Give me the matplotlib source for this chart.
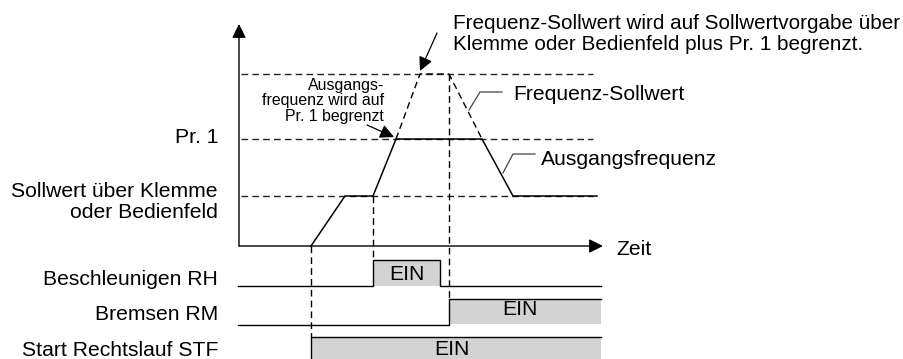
import matplotlib
matplotlib.use('Agg')
import matplotlib.pyplot as plt
from matplotlib.patches import FancyArrowPatch

plt.rcParams['font.family'] = ['Liberation Sans', 'DejaVu Sans']
plt.rcParams['lines.scale_dashes'] = False

# ---------------- data ----------------
F_SET = 25.0      # Sollwert über Klemme oder Bedienfeld
F_PR1 = 53.5      # Pr. 1
F_MAX = 86.0      # Sollwertvorgabe + Pr. 1
level_values = [F_MAX, F_PR1, F_SET]

# output frequency (Ausgangsfrequenz)
output_t = [7.2, 10.6, 13.4, 15.7, 24.3, 27.4, 35.8]
output_f = [0.0, F_SET, F_SET, F_PR1, F_PR1, F_SET, F_SET]
# frequency command above Pr. 1 (Frequenz-Sollwert)
command_t = [15.7, 18.1, 21.0, 24.3]
command_f = [F_PR1, F_MAX, F_MAX, F_PR1]

# signals
signal_names = ['Beschleunigen RH', 'Bremsen RM', 'Start Rechtslauf STF']
signal_on = [13.4, 21.0, 7.2]
signal_off = [20.1, 36.2, 36.2]
signal_text = ['EIN', 'EIN', 'EIN']
t_first, t_last = -0.1, 36.2
level_end = 35.4
axis_end_t = 36.4

# ---------------- layout ----------------
W, H = 904, 359
X0, SX = 239, 10.0    # px of t=0, px per time unit
Y0, SY = 246, 2.0     # px of f=0, px per freq unit


def P(x, y):
    """pixel position -> data coordinates (layout helper for text/annotations)"""
    return ((x - X0) / SX, (Y0 - y) / SY)


row_high = [P(0, 260)[1], P(0, 299)[1], P(0, 337)[1]]
row_base = [P(0, 286)[1], P(0, 324.5)[1], P(0, 362)[1]]

fig = plt.figure(figsize=(W / 100, H / 100), dpi=100)
ax = fig.add_axes([0, 0, 1, 1])
x_lo, y_hi = P(0, 0)
x_hi, y_lo = P(W, H)
ax.set_xlim(x_lo, x_hi)
ax.set_ylim(y_lo, y_hi)
ax.axis('off')

LW = 1.0
DASH = (0, (4.8, 3.0))
GRAY = '#d3d3d3'

# axes arrows
for a, b in [((0, 0), (0, P(0, 24)[1])), ((0, 0), (axis_end_t, 0))]:
    ax.add_patch(FancyArrowPatch(a, b, arrowstyle='-|>,head_length=0.6,head_width=0.3',
                                 mutation_scale=14, color='black', lw=LW,
                                 shrinkA=0, shrinkB=0))

# horizontal dashed levels
for lv in level_values:
    ax.plot([0.2, level_end], [lv, lv], color='#222222', lw=LW, linestyle=DASH)

# command (dashed) and output (solid)
ax.plot(command_t, command_f, color='black', lw=LW, linestyle=DASH)
ax.plot(output_t, output_f, color='black', lw=1.1, solid_joinstyle='miter')

# vertical dashed guides
ax.plot([signal_on[2]] * 2, [0, row_high[2]], color='black', lw=LW, linestyle=DASH)
ax.plot([signal_on[0]] * 2, [F_SET, row_high[0]], color='black', lw=LW, linestyle=DASH)
ax.plot([signal_on[1]] * 2, [F_MAX, row_high[1]], color='black', lw=LW, linestyle=DASH)

# signal rows
for i in range(3):
    on, off = signal_on[i], signal_off[i]
    hi, lo = row_high[i], row_base[i]
    ax.fill_between([on, off], [lo, lo], [hi, hi], color=GRAY, lw=0, zorder=1)
    if off < t_last:
        xs = [t_first, on, on, off, off, t_last]
        ys = [lo, lo, hi, hi, lo, lo]
    else:
        xs = [t_first, on, on, off]
        ys = [lo, lo, hi, hi]
    ax.plot(xs, ys, color='black', lw=LW, zorder=2, clip_on=False)

FS = 15.2
# EIN labels
ein_pos = [(407, 280), (520, 315), (452, 355)]
for (x, y), s in zip(ein_pos, signal_text):
    ax.text(*P(x, y), s, fontsize=FS, ha='center', va='baseline')

# left labels
left = [('Pr. 1', 143), ('Sollwert über Klemme', 197), ('oder Bedienfeld', 218),
        ('Beschleunigen RH', 285), ('Bremsen RM', 320), ('Start Rechtslauf STF', 356)]
for s, y in left:
    ax.text(*P(218, y), s, fontsize=FS, ha='right', va='baseline')

# right labels
FS_TOP = 14.85
ax.text(*P(453, 29), 'Frequenz-Sollwert wird auf Sollwertvorgabe über', fontsize=FS_TOP,
        ha='left', va='baseline')
ax.text(*P(453, 50), 'Klemme oder Bedienfeld plus Pr. 1 begrenzt.', fontsize=FS_TOP,
        ha='left', va='baseline')
ax.text(*P(513, 100), 'Frequenz-Sollwert', fontsize=FS, ha='left', va='baseline')
ax.text(*P(541, 165), 'Ausgangsfrequenz', fontsize=FS, ha='left', va='baseline')
ax.text(*P(616, 255), 'Zeit', fontsize=FS, ha='left', va='baseline')

# small annotation
for s, y in [('Ausgangs-', 90), ('frequenz wird auf', 105), ('Pr. 1 begrenzt', 121)]:
    ax.text(*P(384, y), s, fontsize=11.4, ha='right', va='baseline')

# leader lines
LEAD = '#444444'
for pts in [[(502, 92), (480, 92), (469, 110)], [(535, 154), (513, 154), (503, 173)]]:
    xs, ys = zip(*[P(x, y) for x, y in pts])
    ax.plot(xs, ys, color=LEAD, lw=0.9)

# arrows
for a, b in [((437, 33), (420, 71)), ((367, 125), (394, 137))]:
    ax.add_patch(FancyArrowPatch(P(*a), P(*b), arrowstyle='-|>,head_length=0.6,head_width=0.3',
                                 mutation_scale=14, color='black', lw=0.9,
                                 shrinkA=0, shrinkB=0))

fig.savefig('out.png', dpi=100)
